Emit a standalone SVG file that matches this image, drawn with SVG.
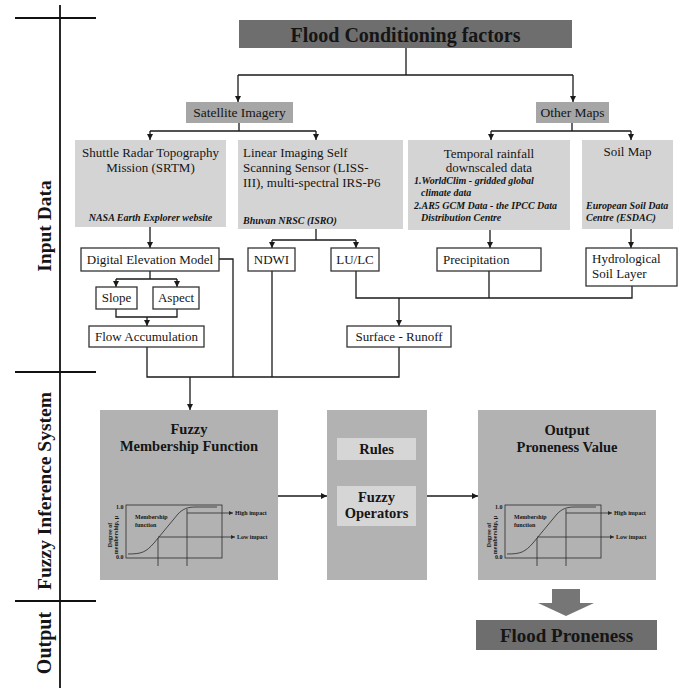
<svg xmlns="http://www.w3.org/2000/svg" width="685" height="688" viewBox="0 0 685 688">
  <style>
    text { font-family: "Liberation Serif", "Times New Roman", serif; fill: #151515; }
    .b { font-weight: bold; }
    .bi { font-weight: bold; font-style: italic; font-size: 10px; }
    .r13 { font-size: 13px; }
    .mid { text-anchor: middle; }
    .frame { stroke: #111; stroke-width: 1.8; fill: none; }
    .ln { stroke: #1a1a1a; stroke-width: 1.3; fill: none; }
    .arr { marker-end: url(#ah); }
    .wbox { fill: #fff; stroke: #333; stroke-width: 1.3; }
    .src { fill: #d4d4d4; }
    .grp { fill: #a6a6a6; }
    .dark { fill: #6e6e6e; }
    .fis { fill: #b2b2b2; }
    .inner { fill: #d6d6d6; }
    .cl { stroke: #2a2a2a; stroke-width: 0.8; fill: none; }
    .tiny { font-size: 6px; }
  </style>
  <defs>
    <marker id="ah" markerUnits="userSpaceOnUse" markerWidth="6" markerHeight="6" refX="6" refY="3" orient="auto">
      <path d="M0,0 L6,3 L0,6 z" fill="#1a1a1a"/>
    </marker>
    <marker id="ahs" markerUnits="userSpaceOnUse" markerWidth="4" markerHeight="4" refX="4" refY="2" orient="auto">
      <path d="M0,0 L4,2 L0,4 z" fill="#2a2a2a"/>
    </marker>
    <!-- membership function chart, origin at the top-left of the plot frame -->
    <g id="mf-chart">
      <rect class="cl" x="0" y="0" width="96" height="53"/>
      <path class="cl" stroke-width="1.1" d="M2,49 C16,49 20,47 28,38 L52,9 C57,4 61,2 70,2 L91,2"/>
      <line class="cl" x1="32" y1="33" x2="32" y2="61"/>
      <line class="cl" x1="61" y1="4" x2="61" y2="61"/>
      <line class="cl" x1="61" y1="8" x2="107" y2="8" marker-end="url(#ahs)"/>
      <line class="cl" x1="32" y1="32" x2="109" y2="32" marker-end="url(#ahs)"/>
      <text class="tiny b" x="109" y="10">High impact</text>
      <text class="tiny b" x="111" y="34">Low impact</text>
      <text class="tiny b" x="9" y="14">Membership</text>
      <text class="tiny b" x="9" y="22">function</text>
      <text class="tiny b" x="-10" y="4">1.0</text>
      <text class="tiny b" x="-10" y="54">0.0</text>
      <text class="tiny b mid" transform="translate(-14,30) rotate(-90)">Degree of</text>
      <text class="tiny b mid" transform="translate(-8,30) rotate(-90)">membership, μ</text>
    </g>
  </defs>

  <!-- stage frame and stage labels -->
  <g id="stages">
    <line class="frame" x1="60" y1="5" x2="60" y2="688"/>
    <line class="frame" x1="15" y1="18" x2="96" y2="18"/>
    <line class="frame" x1="15" y1="372" x2="96" y2="372"/>
    <line class="frame" x1="15" y1="601" x2="96" y2="601"/>
    <text class="b mid" font-size="19.5" transform="translate(51,226) rotate(-90)">Input Data</text>
    <text class="b mid" font-size="19.5" transform="translate(51,491) rotate(-90)">Fuzzy Inference System</text>
    <text class="b mid" font-size="20" transform="translate(51,643) rotate(-90)">Output</text>
  </g>

  <!-- connectors -->
  <g id="connectors">
    <path class="ln" d="M406,48 V75 M238,75 H573"/>
    <path class="ln arr" d="M238,75 V102"/>
    <path class="ln arr" d="M573,75 V102"/>

    <path class="ln" d="M239,123 V131 M150,131 H316"/>
    <path class="ln arr" d="M150,131 V140"/>
    <path class="ln arr" d="M316,131 V140"/>

    <path class="ln" d="M572,123 V131 M491,131 H631"/>
    <path class="ln arr" d="M491,131 V140"/>
    <path class="ln arr" d="M631,131 V140"/>

    <path class="ln arr" d="M150,227 V248"/>
    <path class="ln" d="M316,229 V240 M272,240 H356"/>
    <path class="ln arr" d="M272,240 V248"/>
    <path class="ln arr" d="M356,240 V248"/>
    <path class="ln arr" d="M490,230 V248"/>
    <path class="ln arr" d="M631,229 V248"/>

    <path class="ln" d="M150,271 V279 M116,279 H177"/>
    <path class="ln arr" d="M116,279 V287"/>
    <path class="ln arr" d="M177,279 V287"/>
    <path class="ln" d="M116,309 V317 H177 V309"/>
    <path class="ln arr" d="M147,317 V326"/>

    <path class="ln" d="M219,259 H233 V377"/>
    <path class="ln" d="M272,271 V377"/>
    <path class="ln" d="M356,271 V298 H632 V286 M489,271 V298"/>
    <path class="ln arr" d="M399,298 V326"/>

    <path class="ln" d="M147,347 V377 H399 V347"/>
    <path class="ln arr" d="M190,377 V410"/>

    <path class="ln arr" d="M278,496 H327"/>
    <path class="ln arr" d="M427,496 H478"/>

    <polygon points="552,589 580,589 580,603 594,603 566,616 538,603 552,603" fill="#767676"/>
  </g>

  <!-- nodes -->
  <g id="flood-conditioning-factors">
    <rect class="dark" x="239" y="20" width="333" height="28"/>
    <text class="b mid" font-size="20" x="405.5" y="42">Flood Conditioning factors</text>
  </g>

  <g id="satellite-imagery">
    <rect class="grp" x="186" y="102" width="107" height="21"/>
    <text class="mid" font-size="13.5" x="239.5" y="117">Satellite Imagery</text>
  </g>

  <g id="other-maps">
    <rect class="grp" x="536" y="102" width="73" height="21"/>
    <text class="mid" font-size="13.5" x="572.5" y="117">Other Maps</text>
  </g>

  <g id="srtm">
    <rect class="src" x="75" y="140" width="151" height="87"/>
    <text class="r13 mid" x="150.5" y="157">Shuttle Radar Topography</text>
    <text class="r13 mid" x="150.5" y="172">Mission (SRTM)</text>
    <text class="bi mid" x="150.5" y="221">NASA Earth Explorer website</text>
  </g>

  <g id="liss">
    <rect class="src" x="238" y="140" width="165" height="89"/>
    <text class="r13" x="243" y="157">Linear Imaging Self</text>
    <text class="r13" x="243" y="172">Scanning Sensor (LISS-</text>
    <text class="r13" x="243" y="187">III), multi-spectral IRS-P6</text>
    <text class="bi" x="243" y="224">Bhuvan NRSC (ISRO)</text>
  </g>

  <g id="temporal-rainfall">
    <rect class="src" x="408" y="140" width="162" height="90"/>
    <text class="r13 mid" x="489" y="158">Temporal rainfall</text>
    <text class="r13 mid" x="489" y="172">downscaled data</text>
    <text class="bi" x="414" y="184">1.WorldClim - gridded global</text>
    <text class="bi" x="421" y="196">climate data</text>
    <text class="bi" x="414" y="209">2.AR5 GCM Data - the IPCC Data</text>
    <text class="bi" x="421" y="221">Distribution Centre</text>
  </g>

  <g id="soil-map">
    <rect class="src" x="582" y="140" width="91" height="89"/>
    <text class="r13 mid" x="627.5" y="156">Soil Map</text>
    <text class="bi" x="586" y="209">European Soil Data</text>
    <text class="bi" x="586" y="221">Centre (ESDAC)</text>
  </g>

  <g id="dem">
    <rect class="wbox" x="81" y="248" width="138" height="23"/>
    <text class="r13 mid" x="150" y="264">Digital Elevation Model</text>
  </g>

  <g id="ndwi">
    <rect class="wbox" x="248" y="248" width="47" height="23"/>
    <text class="r13 mid" x="271.5" y="264">NDWI</text>
  </g>

  <g id="lulc">
    <rect class="wbox" x="331" y="248" width="48" height="23"/>
    <text class="r13 mid" x="355" y="264">LU/LC</text>
  </g>

  <g id="precipitation">
    <rect class="wbox" x="437" y="248" width="104" height="23"/>
    <text class="r13" x="443" y="264">Precipitation</text>
  </g>

  <g id="hydrological-soil-layer">
    <rect class="wbox" x="586" y="248" width="91" height="38"/>
    <text class="r13" x="592" y="263">Hydrological</text>
    <text class="r13" x="592" y="278">Soil Layer</text>
  </g>

  <g id="slope">
    <rect class="wbox" x="96" y="287" width="41" height="22"/>
    <text class="r13 mid" x="116.5" y="302">Slope</text>
  </g>

  <g id="aspect">
    <rect class="wbox" x="153" y="287" width="46" height="22"/>
    <text class="r13 mid" x="176" y="302">Aspect</text>
  </g>

  <g id="flow-accumulation">
    <rect class="wbox" x="89" y="326" width="115" height="21"/>
    <text class="r13 mid" x="146.5" y="341">Flow Accumulation</text>
  </g>

  <g id="surface-runoff">
    <rect class="wbox" x="347" y="326" width="104" height="21"/>
    <text class="r13 mid" x="399" y="341">Surface - Runoff</text>
  </g>

  <g id="fuzzy-membership-function">
    <rect class="fis" x="100" y="410" width="178" height="170"/>
    <text class="b mid" font-size="14.5" x="189" y="434">Fuzzy</text>
    <text class="b mid" font-size="14.5" x="189" y="451">Membership Function</text>
    <use href="#mf-chart" x="126" y="505"/>
  </g>

  <g id="rules-operators">
    <rect class="fis" x="327" y="410" width="100" height="170"/>
    <rect class="inner" x="337" y="438" width="79" height="22"/>
    <text class="b mid" font-size="14.5" x="376.5" y="454">Rules</text>
    <rect class="inner" x="337" y="486" width="79" height="40"/>
    <text class="b mid" font-size="14.5" x="376.5" y="502">Fuzzy</text>
    <text class="b mid" font-size="14.5" x="376.5" y="518">Operators</text>
  </g>

  <g id="output-proneness-value">
    <rect class="fis" x="478" y="410" width="178" height="170"/>
    <text class="b mid" font-size="14.5" x="567" y="435">Output</text>
    <text class="b mid" font-size="14.5" x="567" y="452">Proneness Value</text>
    <use href="#mf-chart" x="505" y="505"/>
  </g>

  <g id="flood-proneness">
    <rect class="dark" x="476" y="620" width="181" height="30"/>
    <text class="b mid" font-size="19" x="566.5" y="642">Flood Proneness</text>
  </g>
</svg>
